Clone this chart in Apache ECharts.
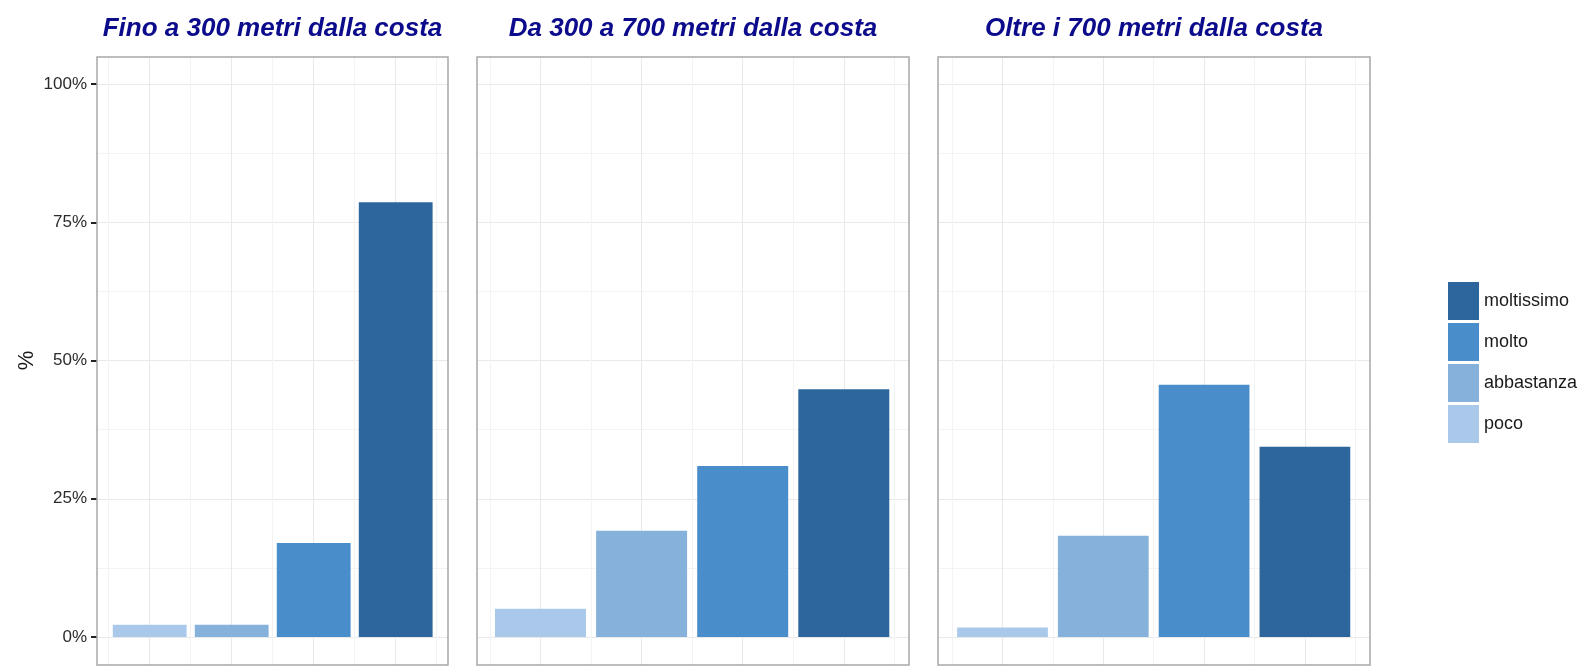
<!DOCTYPE html>
<html>
<head>
<meta charset="utf-8">
<script src="https://cdn.jsdelivr.net/npm/echarts@6.0.0/dist/echarts.min.js"></script>
<style>
html,body{margin:0;padding:0;background:#fff;}
#chart{width:1585px;height:667px;}
</style>
</head>
<body>
<div id="chart"></div>
<script>
// ---- data ----
var levels = ['poco', 'abbastanza', 'molto', 'moltissimo'];
var panelTitles = ['Fino a 300 metri dalla costa', 'Da 300 a 700 metri dalla costa', 'Oltre i 700 metri dalla costa'];
var fino300 = [2.2, 2.2, 17.0, 78.6];
var da300a700 = [5.1, 19.2, 30.9, 44.8];
var oltre700 = [1.7, 18.3, 45.6, 34.4];
var yTicks = [0, 25, 50, 75, 100];
var legendOrder = ['moltissimo', 'molto', 'abbastanza', 'poco'];

var panelValues = [fino300, da300a700, oltre700];
var levelColors = {poco: '#aac9ea', abbastanza: '#86b1db', molto: '#4a8dcb', moltissimo: '#2d669d'};

// ---- layout (pixels) ----
var frameL = [97, 477, 938], frameR = [448, 909, 1370];
var frameT = 57, frameB = 665;
var firstCenter = [149.7, 540.5, 1002.5];
var unit = [82, 101.1, 100.8];
var y0 = 637, y100 = 84;
var pxPerPct = (y0 - y100) / 100;
var yMinB = -(frameB - y0) / pxPerPct;
var yMaxB = 100 + (y100 - frameT) / pxPerPct;
var FONT = "'Liberation Sans', Arial, sans-serif";

var grids = [], xAxes = [], yAxes = [], series = [], graphics = [];
var hidden = {axisLine: {show: false}, axisTick: {show: false}, axisLabel: {show: false}, splitLine: {show: false}};
function hiddenAxis(extra) { return Object.assign({}, hidden, extra); }

for (var i = 0; i < 3; i++) {
  var base = grids.length;
  // A: horizontal gridlines + y labels
  grids.push({left: frameL[i], top: y100, width: frameR[i] - frameL[i], height: y0 - y100});
  xAxes.push(hiddenAxis({type: 'value', gridIndex: base, min: 0, max: 1}));
  yAxes.push({
    type: 'value', gridIndex: base,
    min: yTicks[0], max: yTicks[yTicks.length - 1], interval: yTicks[1] - yTicks[0],
    axisLine: {show: false},
    axisTick: {show: i === 0, length: 6, lineStyle: {color: '#222', width: 2}},
    axisLabel: {show: i === 0, formatter: '{value}%', fontFamily: FONT, fontSize: 17, color: '#2b2b2b', margin: 10},
    splitLine: {show: true, lineStyle: {color: '#e9e9e9', width: 1}},
    minorTick: {show: false, splitNumber: 2},
    minorSplitLine: {show: true, lineStyle: {color: '#f3f3f3', width: 1}}
  });
  // B: bars on category axis + minor vertical gridlines
  var bl = firstCenter[i] - 0.5 * unit[i];
  grids.push({left: bl, top: frameT, width: 4 * unit[i], height: frameB - frameT});
  xAxes.push({
    type: 'category', gridIndex: base + 1, data: levels, boundaryGap: true,
    axisLine: {show: false}, axisTick: {show: false}, axisLabel: {show: false},
    splitLine: {show: true, interval: 0, lineStyle: {color: '#f3f3f3', width: 1}}
  });
  yAxes.push(hiddenAxis({type: 'value', gridIndex: base + 1, min: yMinB, max: yMaxB}));
  // D: major vertical gridlines at category centres
  grids.push({left: firstCenter[i], top: frameT, width: 3 * unit[i], height: frameB - frameT});
  xAxes.push({
    type: 'value', gridIndex: base + 2, min: 1, max: levels.length, interval: 1,
    axisLine: {show: false}, axisTick: {show: false}, axisLabel: {show: false},
    splitLine: {show: true, lineStyle: {color: '#e9e9e9', width: 1}}
  });
  yAxes.push(hiddenAxis({type: 'value', gridIndex: base + 2, min: 0, max: 1}));
  // C: frame
  grids.push({left: frameL[i], top: frameT, width: frameR[i] - frameL[i], height: frameB - frameT,
    show: true, borderColor: '#a8a8a8', borderWidth: 1.5, backgroundColor: 'transparent', z: 3});
  xAxes.push(hiddenAxis({type: 'value', gridIndex: base + 3, min: 0, max: 1}));
  yAxes.push(hiddenAxis({type: 'value', gridIndex: base + 3, min: 0, max: 1}));

  // series: one per level, stacked so each category gets a single bar
  levels.forEach(function (lvl, k) {
    series.push({
      name: lvl, type: 'bar', xAxisIndex: base + 1, yAxisIndex: base + 1,
      stack: 'panel' + i, barWidth: '90%',
      itemStyle: {color: levelColors[lvl]},
      emphasis: {disabled: true},
      data: panelValues[i].map(function (v, j) { return j === k ? v : '-'; })
    });
  });

  graphics.push({
    type: 'text', x: (frameL[i] + frameR[i]) / 2, y: 29,
    style: {text: panelTitles[i], fontFamily: FONT, fontSize: 26, fontWeight: 'bold', fontStyle: 'italic',
      fill: '#0b0b8c', align: 'center', verticalAlign: 'middle'}
  });
}

graphics.push({
  type: 'text', x: 27, y: (y0 + y100) / 2, rotation: Math.PI / 2,
  style: {text: '%', fontFamily: FONT, fontSize: 22, fill: '#1a1a1a', align: 'center', verticalAlign: 'middle'}
});

var chart = echarts.init(document.getElementById('chart'), null, {renderer: 'canvas'});
chart.setOption({
  animation: false,
  backgroundColor: '#ffffff',
  textStyle: {fontFamily: FONT},
  grid: grids,
  xAxis: xAxes,
  yAxis: yAxes,
  legend: {
    data: legendOrder, orient: 'vertical', left: 1448, top: 282, padding: 0,
    itemWidth: 31, itemHeight: 38, itemGap: 3, icon: 'rect', selectedMode: false,
    textStyle: {fontFamily: FONT, fontSize: 18, color: '#1a1a1a'}
  },
  graphic: graphics,
  series: series
});
</script>
</body>
</html>
